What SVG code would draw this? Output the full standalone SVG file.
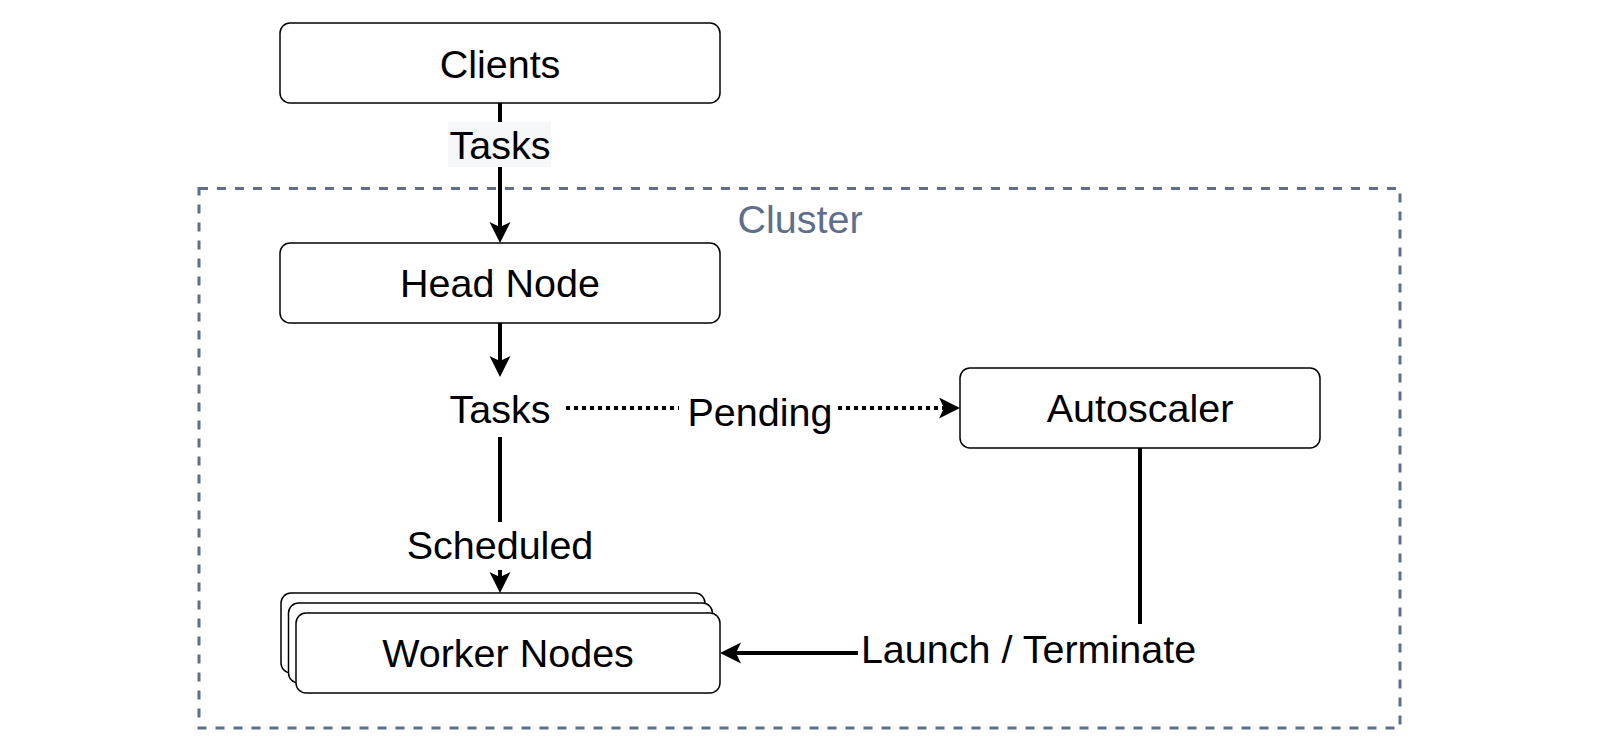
<svg xmlns="http://www.w3.org/2000/svg" width="1600" height="750" viewBox="0 0 1600 750">
  <style>
    text { font-family: "Liberation Sans", Arial, sans-serif; font-size: 39.5px; fill: #000; text-anchor: middle; }
    .node { fill: #ffffff; stroke: #000000; stroke-width: 1.5; }
    .edge { fill: none; stroke: #000000; stroke-width: 4; }
    .dotted { stroke-dasharray: 4 4; }
    .lblbg { fill: #ffffff; stroke: none; }
    .cluster { fill: none; stroke: #5f6f8a; stroke-width: 3; stroke-dasharray: 9 9; }
  </style>
  <defs>
    <marker id="arr" markerUnits="userSpaceOnUse" markerWidth="22" markerHeight="22" viewBox="0 0 22 22" refX="5" refY="10.5" orient="auto">
      <path d="M0,0 L21,10.5 L0,21 L5,10.5 Z" fill="#000000"/>
    </marker>
  </defs>
  <rect x="0" y="0" width="1600" height="750" fill="#ffffff"/>

  <g id="cluster">
    <rect class="cluster" x="199" y="188.5" width="1201" height="539.5"/>
    <text x="800" y="233" style="fill:#5f6f8a">Cluster</text>
  </g>

  <g id="connectors">
    <path class="edge" d="M500,103 V227" marker-end="url(#arr)"/>
    <rect x="448" y="122" width="103" height="45" fill="#f6f7f9"/>
    <text x="500" y="158.5">Tasks</text>

    <path class="edge" d="M500,323 V361" marker-end="url(#arr)"/>

    <path class="edge" d="M500,437 V577" marker-end="url(#arr)"/>
    <rect class="lblbg" x="405" y="522" width="192" height="48"/>
    <text x="500" y="559">Scheduled</text>

    <path class="edge dotted" d="M566,408 H944" marker-end="url(#arr)"/>
    <rect class="lblbg" x="679" y="386" width="159" height="48"/>
    <text x="760" y="426">Pending</text>

    <path class="edge" d="M1140,448 V653 H736" marker-end="url(#arr)"/>
    <rect class="lblbg" x="858" y="624" width="341" height="48"/>
    <text x="1028.5" y="663">Launch / Terminate</text>
  </g>

  <g id="clients">
    <rect class="node" x="280" y="23" width="440" height="80" rx="10" ry="10"/>
    <text x="500" y="78">Clients</text>
  </g>

  <g id="head-node">
    <rect class="node" x="280" y="243" width="440" height="80" rx="10" ry="10"/>
    <text x="500" y="297">Head Node</text>
  </g>

  <g id="tasks">
    <text x="500" y="423">Tasks</text>
  </g>

  <g id="autoscaler">
    <rect class="node" x="960" y="368" width="360" height="80" rx="10" ry="10"/>
    <text x="1140" y="422">Autoscaler</text>
  </g>

  <g id="worker-nodes">
    <rect class="node" x="281" y="593" width="424" height="80" rx="10" ry="10"/>
    <rect class="node" x="288.5" y="603" width="424" height="80" rx="10" ry="10"/>
    <rect class="node" x="296" y="613" width="424" height="80" rx="10" ry="10"/>
    <text x="508" y="667">Worker Nodes</text>
  </g>
</svg>
